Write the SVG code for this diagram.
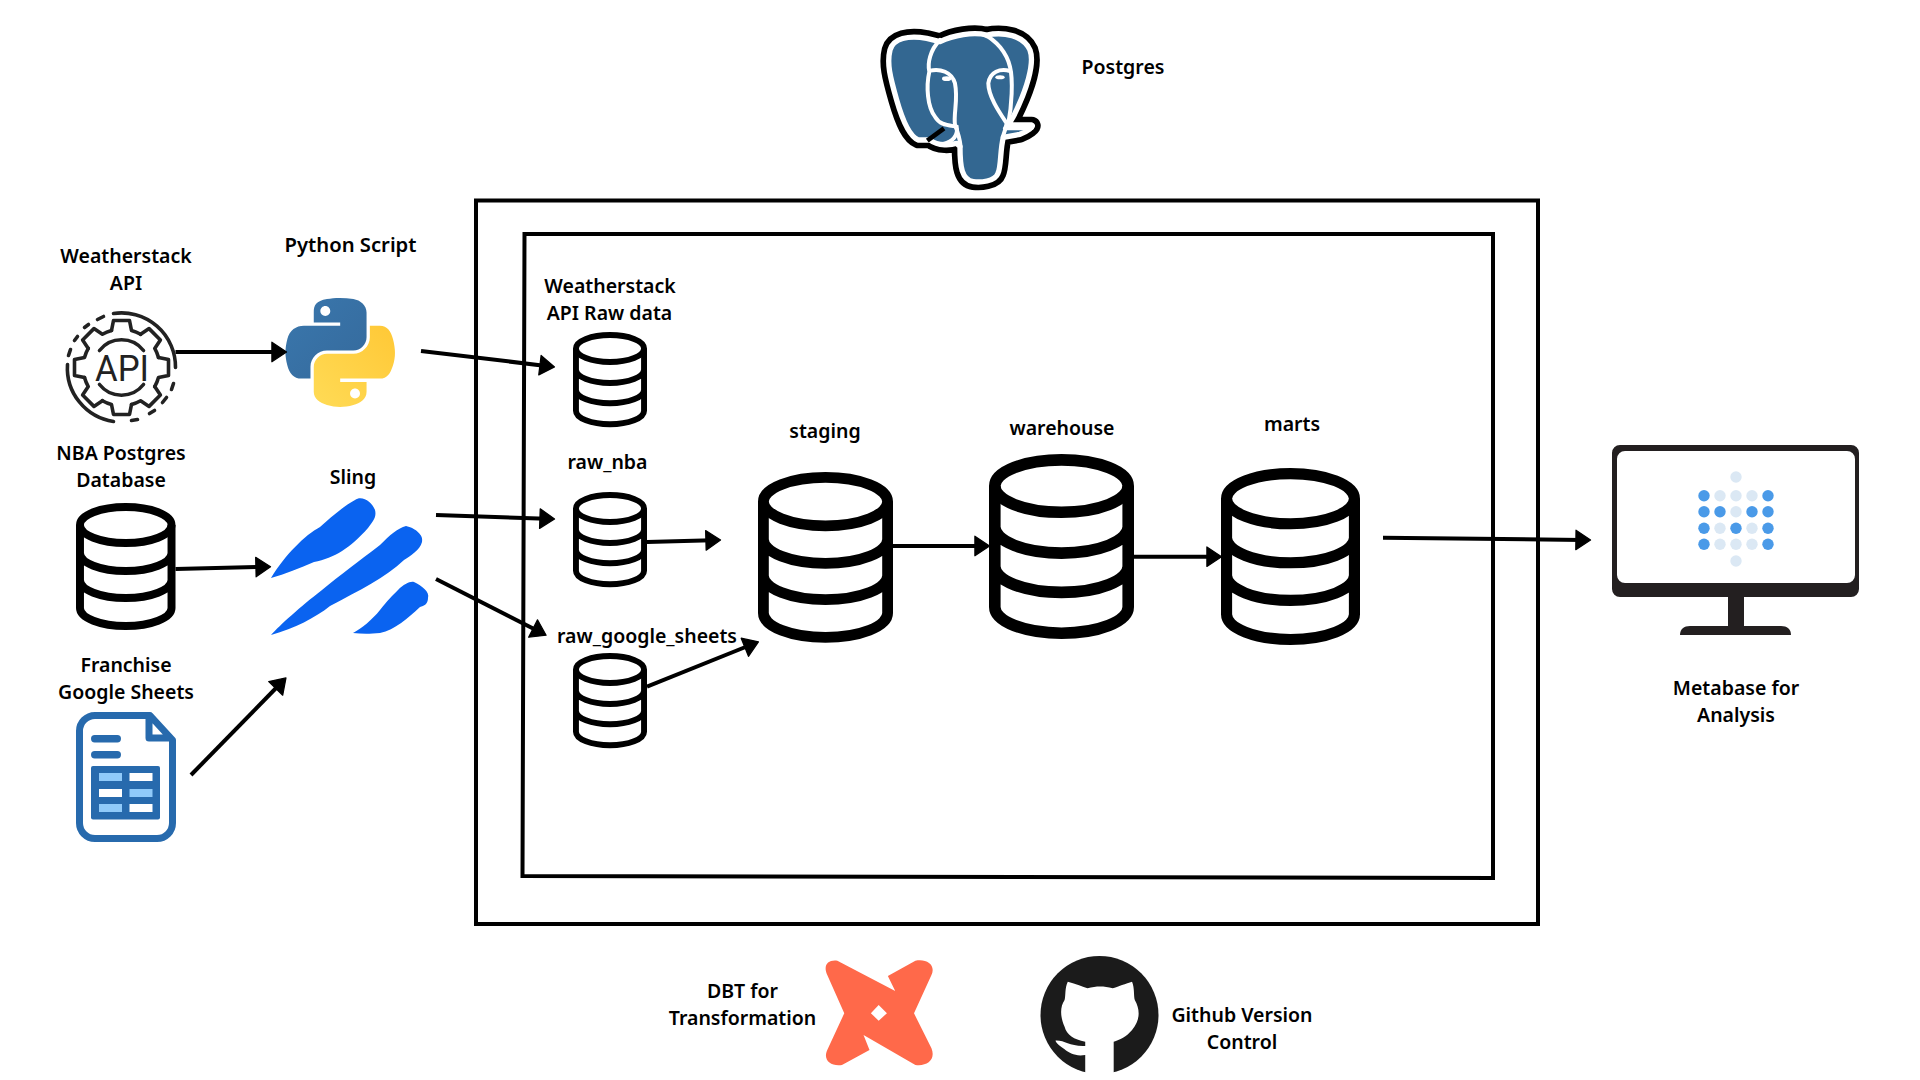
<svg xmlns="http://www.w3.org/2000/svg" width="1920" height="1080" viewBox="0 0 1920 1080">
<style>
.t{font-family:"Noto Sans","Open Sans","Liberation Sans",sans-serif;font-weight:600;font-size:19.5px;fill:#000;text-anchor:middle}
.c line{stroke:#000;stroke-width:4;marker-end:url(#ah)}
.box{fill:none;stroke:#000;stroke-width:4}
.db{fill:none;stroke:#000;stroke-width:8}
.gear{fill:none;stroke:#222;stroke-width:3.6;stroke-linejoin:round;stroke-linecap:round}
</style>
<defs>
<marker id="ah" markerUnits="userSpaceOnUse" markerWidth="20" markerHeight="22" viewBox="-1 -1 15 18" refX="5" refY="8" orient="auto"><polygon points="0,0 12,8 0,16" fill="#000" stroke="#000" stroke-width="1" stroke-linejoin="round"/></marker>
<g id="dbs" class="db"><ellipse cx="50" cy="22" rx="46" ry="18"/><path d="M4,22V105A46,18 0 0 0 96,105V22M4,50A46,18 0 0 0 96,50M4,77A46,18 0 0 0 96,77"/></g>
<path id="tooth" d="M-10,-37L-8,-47H8L10,-37A38.3,38.3 0 0 1 19.09,-33.23"/>
<linearGradient id="py1" x1="0" y1="0" x2="1" y2="1"><stop offset="0" stop-color="#3a77ad"/><stop offset="1" stop-color="#356a9c"/></linearGradient>
<linearGradient id="py2" x1="1" y1="0" x2="0" y2="1"><stop offset="0" stop-color="#ffc836"/><stop offset="1" stop-color="#ffdb56"/></linearGradient>
</defs>
<rect width="1920" height="1080" fill="#fff"/>
<g id="containers">
<rect class="box" x="476" y="200.500" width="1062" height="723.500"/>
<path class="box" d="M524.500,234H1493V878L522.500,876Z"/>
</g>
<g id="postgres">
<g transform="translate(840,0) scale(.3333)">
<path d="M150,150C160,115 205,105 260,115L300,125C340,105 400,95 440,105C490,95 550,105 570,150C585,190 560,270 520,350L505,375L575,375C585,378 560,395 540,403L490,412C480,450 484,500 474,520C465,545 420,548 400,545C365,540 360,500 360,440L350,430C335,435 295,440 270,420L235,420C210,410 190,370 170,300C150,230 140,190 150,150Z" fill="#336791" stroke="#000" stroke-width="50" stroke-linejoin="round"/>
<path d="M150,150C160,115 205,105 260,115L300,125C340,105 400,95 440,105C490,95 550,105 570,150C585,190 560,270 520,350L505,375L575,375C585,378 560,395 540,403L490,412C480,450 484,500 474,520C465,545 420,548 400,545C365,540 360,500 360,440L350,430C335,435 295,440 270,420L235,420C210,410 190,370 170,300C150,230 140,190 150,150Z" fill="#336791" stroke="#fff" stroke-width="16" stroke-linejoin="round"/>
<g fill="none" stroke="#fff" stroke-width="12" stroke-linecap="round">
<path d="M300,120C270,150 262,190 268,215C258,260 262,320 285,350C300,375 320,375 350,380C355,405 340,425 310,432"/>
<path d="M270,212C300,205 335,215 345,250C355,300 340,340 345,375C355,400 360,420 362,440"/>
<path d="M430,103C470,120 500,160 510,200C520,240 515,320 505,370"/>
<path d="M510,213C480,205 450,215 445,250C445,290 480,340 500,370C495,395 490,405 488,412"/>
<path d="M495,385H575"/>
</g>
<path d="M262,422L312,385" stroke="#000" stroke-width="14" fill="none"/>
<ellipse cx="320" cy="236" rx="14" ry="7" fill="#fff"/><ellipse cx="480" cy="232" rx="14" ry="6" fill="#fff"/>
</g>
<text class="t" x="1123" y="74">Postgres</text>
</g>
<g id="weatherstack-api">
<g class="gear" transform="translate(121.500,367.500)">
<use href="#tooth"/><use href="#tooth" transform="rotate(45)"/><use href="#tooth" transform="rotate(90)"/><use href="#tooth" transform="rotate(135)"/><use href="#tooth" transform="rotate(180)"/><use href="#tooth" transform="rotate(225)"/><use href="#tooth" transform="rotate(270)"/><use href="#tooth" transform="rotate(315)"/>
<path d="M-22,-17A28,28 0 0 1 22,-17M-22,17A28,28 0 0 0 22,17"/>
<path d="M-8,-54A54,54 0 0 1 54,0M-8,54A54,54 0 0 1 -54,-3M52,16L50,22M45,30L41,35M33,43L28,46M16,52L10,53M-53,-12L-51,-18M-47,-27L-44,-31M-37,-40L-33,-43M-24,-48L-18,-51"/>
</g>
<text x="122" y="381" font-family="Roboto,'Liberation Sans',sans-serif" font-weight="400" font-size="37" fill="#222" text-anchor="middle" textLength="54" lengthAdjust="spacingAndGlyphs">API</text>
<text class="t" x="126" y="263">Weatherstack</text><text class="t" x="126" y="290">API</text>
</g>
<g id="python-script">
<g transform="translate(285.500,298) scale(.985,.97)">
<path fill="url(#py1)" d="M54.92,0C50.34,.03 45.96,.42 42.11,1.1C30.76,3.11 28.7,7.3 28.7,15.03V25.24H55.51V28.64H18.64C10.85,28.64 4.02,33.33 1.89,42.24C-.57,52.45 -.68,58.82 1.89,69.49C3.79,77.43 8.35,83.08 16.14,83.08H25.36V70.83C25.36,61.98 33.02,54.17 42.11,54.17H68.89C76.34,54.17 82.29,48.03 82.29,40.55V15.03C82.29,7.76 76.16,2.3 68.89,1.1C64.28,.33 59.5,-.02 54.92,0ZM40.42,8.23C43.19,8.23 45.45,10.53 45.45,13.35C45.45,16.17 43.19,18.45 40.42,18.45C37.64,18.45 35.39,16.17 35.39,13.35C35.39,10.53 37.64,8.23 40.42,8.23Z"/>
<path fill="url(#py2)" d="M85.64,28.66V40.56C85.64,49.79 77.81,57.56 68.89,57.56H42.11C34.77,57.56 28.7,63.84 28.7,71.19V96.72C28.7,103.98 35.02,108.26 42.11,110.34C50.59,112.84 58.73,113.29 68.89,110.34C75.64,108.39 82.29,104.45 82.29,96.72V86.5H55.51V83.09H95.7C103.49,83.09 106.39,77.66 109.1,69.5C111.9,61.1 111.84,53.03 109.1,42.25C107.17,34.5 103.49,28.66 95.7,28.66ZM70.58,93.31C73.36,93.31 75.61,95.59 75.61,98.41C75.61,101.23 73.36,103.53 70.58,103.53C67.81,103.53 65.55,101.23 65.55,98.41C65.55,95.59 67.81,93.31 70.58,93.31Z"/>
</g>
<text class="t" x="350.500" y="252" textLength="132" lengthAdjust="spacingAndGlyphs">Python Script</text>
</g>
<g id="nba-db">
<use href="#dbs" transform="translate(76,503) scale(.995,1)"/>
<text class="t" x="121" y="459.500">NBA Postgres</text><text class="t" x="121" y="486.500">Database</text>
</g>
<g id="sling">
<g fill="#0a63f0">
<path d="M271,578C285,555 305,535 320,527C330,518 345,505 355,500C362,495 372,502 375,510C377,518 372,522 368,528C350,548 335,558 314,562C300,568 285,574 271,578Z"/>
<path d="M271,635C280,625 300,607 322,590C340,575 358,562 380,545C390,535 398,528 406,526C415,528 424,535 422,542C420,550 410,556 404,560C385,578 360,590 330,606C315,618 295,628 271,635Z"/>
<path d="M353,633C362,628 372,620 380,610C388,600 392,596 398,590C404,584 410,581 414,582C422,586 430,592 428,598C428,604 424,606 420,607C408,618 395,630 380,633C370,634 362,634 353,633Z"/>
</g>
<text class="t" x="353" y="484">Sling</text>
</g>
<g id="google-sheets">
<path d="M150,715.500H95A15.500,15.500 0 0 0 79.500,731V823A15.500,15.500 0 0 0 95,838.500H157A15.500,15.500 0 0 0 172.500,823V740ZM149,716V738H172" fill="#fff" stroke="#276aad" stroke-width="7" stroke-linejoin="round"/>
<rect x="91" y="735" width="30" height="7.500" rx="3.700" fill="#276aad"/><rect x="91" y="751" width="30" height="7.500" rx="3.700" fill="#276aad"/>
<rect x="91" y="766" width="69" height="53.500" rx="2" fill="#276aad"/>
<rect x="99" y="773" width="23" height="8" fill="#90caf9"/><rect x="129.500" y="773" width="23" height="8" fill="#fff"/>
<rect x="99" y="789" width="23" height="8" fill="#fff"/><rect x="129.500" y="789" width="23" height="8" fill="#90caf9"/>
<rect x="99" y="804" width="23" height="8" fill="#90caf9"/><rect x="129.500" y="804" width="23" height="8" fill="#fff"/>
<text class="t" x="126" y="672">Franchise</text><text class="t" x="126" y="699">Google Sheets</text>
</g>
<g id="raw-weather">
<use href="#dbs" transform="translate(573,332) scale(.74,.75)"/>
<text class="t" x="610" y="293">Weatherstack</text><text class="t" x="609.500" y="320">API Raw data</text>
</g>
<g id="raw-nba">
<use href="#dbs" transform="translate(573,492) scale(.74,.75)"/>
<text class="t" x="607.500" y="468.500">raw_nba</text>
</g>
<g id="raw-google-sheets">
<use href="#dbs" transform="translate(573,653) scale(.74,.75)"/>
<text class="t" x="647" y="643">raw_google_sheets</text>
</g>
<g id="staging">
<use href="#dbs" transform="translate(758,472) scale(1.35,1.344)" style="stroke-width:8.500px"/>
<text class="t" x="825" y="437.500">staging</text>
</g>
<g id="warehouse">
<use href="#dbs" transform="translate(989,454) scale(1.45,1.457)" style="stroke-width:8px"/>
<text class="t" x="1062" y="434.500">warehouse</text>
</g>
<g id="marts">
<use href="#dbs" transform="translate(1221,468) scale(1.39,1.394)" style="stroke-width:8px"/>
<text class="t" x="1292" y="431">marts</text>
</g>
<g id="metabase">
<path fill="#231f20" fill-rule="evenodd" d="M1620,445H1851A8,8 0 0 1 1859,453V589A8,8 0 0 1 1851,597H1620A8,8 0 0 1 1612,589V453A8,8 0 0 1 1620,445ZM1625,451A8,8 0 0 0 1617,459V575A8,8 0 0 0 1625,583H1847A8,8 0 0 0 1855,575V459A8,8 0 0 0 1847,451Z"/>
<rect x="1728" y="597" width="16" height="30" fill="#231f20"/>
<path d="M1680,635C1680,629 1684,626 1690,626H1781C1787,626 1791,629 1791,635Z" fill="#231f20"/>
<g fill="#dbe8f4"><circle cx="1736" cy="477" r="5.700"/><circle cx="1720" cy="495.700" r="5.700"/><circle cx="1736" cy="495.700" r="5.700"/><circle cx="1752" cy="495.700" r="5.700"/><circle cx="1736" cy="511.700" r="5.700"/><circle cx="1720" cy="528.300" r="5.700"/><circle cx="1752" cy="528.300" r="5.700"/><circle cx="1720" cy="544.300" r="5.700"/><circle cx="1736" cy="544.300" r="5.700"/><circle cx="1752" cy="544.300" r="5.700"/><circle cx="1736" cy="561" r="5.700"/></g>
<g fill="#4a9ae8"><circle cx="1704" cy="495.700" r="5.700"/><circle cx="1768" cy="495.700" r="5.700"/><circle cx="1704" cy="511.700" r="5.700"/><circle cx="1720" cy="511.700" r="5.700"/><circle cx="1752" cy="511.700" r="5.700"/><circle cx="1768" cy="511.700" r="5.700"/><circle cx="1704" cy="528.300" r="5.700"/><circle cx="1736" cy="528.300" r="5.700"/><circle cx="1768" cy="528.300" r="5.700"/><circle cx="1704" cy="544.300" r="5.700"/><circle cx="1768" cy="544.300" r="5.700"/></g>
<text class="t" x="1736" y="694.500">Metabase for</text><text class="t" x="1736" y="721.500">Analysis</text>
</g>
<g id="dbt">
<path transform="translate(640,920) scale(.459,.3333)" fill="#ff694a" fill-rule="evenodd" d="M430,122L556,213L540,168L600,122C625,115 645,135 635,165L597,280L635,385C645,420 625,440 600,435L487,345L500,390L440,435C415,440 398,420 408,390L445,280L408,165C398,135 410,118 430,122ZM520,255L503,280L520,302L538,280Z"/>
<text class="t" x="742.500" y="998">DBT for</text><text class="t" x="742.500" y="1025">Transformation</text>
</g>
<g id="github">
<circle cx="1099.500" cy="1015" r="59" fill="#1b1b1b"/>
<path transform="translate(640,920) scale(.459,.3333)" fill="#fff" d="M932,185C950,192 965,200 975,205C995,198 1010,198 1030,205C1040,200 1060,190 1072,185C1078,205 1075,225 1078,240C1090,270 1090,300 1072,330C1060,350 1045,360 1032,365V465H970V405C950,410 935,400 925,388C915,378 908,372 905,362C925,360 935,380 970,378V365C945,358 930,345 925,320C915,290 915,260 925,240C928,225 925,205 932,185Z"/>
<text class="t" x="1242" y="1022">Github Version</text><text class="t" x="1242" y="1049">Control</text>
</g>
<g id="connectors" class="c">
<line x1="175.500" y1="352" x2="278" y2="352"/>
<line x1="421" y1="351" x2="546" y2="365.900"/>
<line x1="436" y1="515" x2="546" y2="518.800"/>
<line x1="175.500" y1="569" x2="262" y2="566.900"/>
<line x1="436" y1="579" x2="538.500" y2="631.300"/>
<line x1="191" y1="775" x2="280" y2="684"/>
<line x1="647" y1="542" x2="712" y2="540.200"/>
<line x1="647" y1="686.700" x2="750.500" y2="645"/>
<line x1="893" y1="546" x2="981" y2="546"/>
<line x1="1134" y1="556.700" x2="1213" y2="556.700"/>
<line x1="1383" y1="537.700" x2="1582" y2="540"/>
</g>
</svg>
